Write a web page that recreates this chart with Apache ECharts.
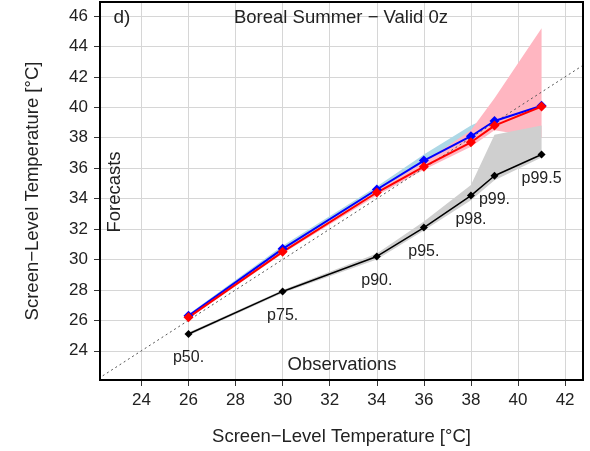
<!DOCTYPE html>
<html>
<head>
<meta charset="utf-8">
<script src="https://cdn.jsdelivr.net/npm/echarts@6/dist/echarts.min.js"></script>
<style>
html,body{margin:0;padding:0;background:#fff;}
#chart{width:590px;height:451px;}
</style>
</head>
<body>
<div id="chart"></div>
<script>
// ---- data ----
const obsX = [26, 30, 34, 36, 38, 39, 41];
const blueVals = [26.3, 30.7, 34.6, 36.5, 38.1, 39.1, 40.1];
const redVals = [26.2, 30.5, 34.4, 36.1, 37.7, 38.8, 40.05];
const blackVals = [25.1, 27.9, 30.2, 32.1, 34.2, 35.5, 36.9];
const pLabels = ['p50.', 'p75.', 'p90.', 'p95.', 'p98.', 'p99.', 'p99.5'];

const blueBandLo = [26.2, 30.5, 34.4, 36.2, 37.8, 38.8, 39.8];
const blueBandHi = [26.4, 30.9, 34.8, 36.9, 38.8, 39.5, 40.4];
const pinkBandLo = [26.1, 30.4, 34.2, 35.9, 37.4, 38.5, 38.0];
const pinkBandHi = [26.3, 30.6, 34.5, 36.4, 38.5, 40.6, 45.2];
const grayBandLo = [25.0, 27.8, 30.0, 31.9, 33.9, 35.2, 36.7];
const grayBandHi = [25.2, 28.0, 30.4, 32.5, 34.9, 38.2, 38.8];

const refLine = [22, 43];
const xTicks = [24, 26, 28, 30, 32, 34, 36, 38, 40, 42];
const yTicks = [24, 26, 28, 30, 32, 34, 36, 38, 40, 42, 44, 46];
const xLim = [23, 42];
const yLim = [23, 46];

// ---- helpers ----
function expand(lim) { const d = (lim[1] - lim[0]) * 0.04; return [lim[0] - d, lim[1] + d]; }
const xr = expand(xLim), yr = expand(yLim);
const FONT = '"Liberation Sans", Arial, Helvetica, sans-serif';

function bandSeries(lo, hi, color) {
  return {
    type: 'custom',
    clip: true,
    silent: true,
    data: [[obsX[0], lo[0]]],
    encode: { x: 0, y: 1 },
    renderItem: function (params, api) {
      const pts = [];
      for (let i = 0; i < obsX.length; i++) pts.push(api.coord([obsX[i], hi[i]]));
      for (let i = obsX.length - 1; i >= 0; i--) pts.push(api.coord([obsX[i], lo[i]]));
      return { type: 'polygon', shape: { points: pts }, style: { fill: color, stroke: null } };
    }
  };
}
function zip(a, b) { return a.map((v, i) => [v, b[i]]); }

const chart = echarts.init(document.getElementById('chart'), null, { renderer: 'canvas' });
chart.setOption({
  animation: false,
  backgroundColor: '#ffffff',
  grid: { left: 100, right: 7, top: 2, bottom: 68.5, show: true, borderColor: '#000', borderWidth: 2, backgroundColor: 'transparent', z: 10 },
  xAxis: {
    type: 'value', min: xr[0], max: xr[1],
    axisLine: { show: false },
    axisTick: { show: true, length: 6, lineStyle: { color: '#333' }, customValues: xTicks },
    axisLabel: { customValues: xTicks, fontSize: 17, fontFamily: FONT, color: '#222', margin: 12 },
    splitLine: { show: true, lineStyle: { color: '#d6d6d6', width: 1 } },
    name: 'Screen\u2212Level Temperature [\u00B0C]', nameLocation: 'middle', nameGap: 47,
    nameTextStyle: { fontSize: 18.5, fontFamily: FONT, color: '#222' }
  },
  yAxis: {
    type: 'value', min: yr[0], max: yr[1],
    axisLine: { show: false },
    axisTick: { show: true, length: 6, lineStyle: { color: '#333' }, customValues: yTicks },
    axisLabel: { customValues: yTicks, fontSize: 17, fontFamily: FONT, color: '#222', margin: 12 },
    splitLine: { show: true, lineStyle: { color: '#d6d6d6', width: 1 } },
    name: 'Screen\u2212Level Temperature [\u00B0C]', nameLocation: 'middle', nameGap: 58,
    nameTextStyle: { fontSize: 18.5, fontFamily: FONT, color: '#222' }
  },
  series: [
    bandSeries(blueBandLo, blueBandHi, '#ADD8E6'),
    bandSeries(pinkBandLo, pinkBandHi, '#FFB6C1'),
    bandSeries(grayBandLo, grayBandHi, '#CFCFCF'),
    {
      type: 'line', data: zip(refLine, refLine), symbol: 'none', clip: true, silent: true,
      lineStyle: { color: '#555', width: 1, type: [2, 3] }
    },
    {
      type: 'line', data: zip(obsX, blueVals), symbol: 'diamond', symbolSize: 10,
      itemStyle: { color: '#0000FF' }, lineStyle: { color: '#0000FF', width: 2 }
    },
    {
      type: 'line', data: zip(obsX, redVals), symbol: 'diamond', symbolSize: 10,
      itemStyle: { color: '#FF0000' }, lineStyle: { color: '#FF0000', width: 2 }
    },
    {
      type: 'line', data: zip(obsX, blackVals), symbol: 'diamond', symbolSize: 8,
      itemStyle: { color: '#000' }, lineStyle: { color: '#000', width: 1.5 },
      label: {
        show: true, position: 'bottom', distance: 12,
        formatter: p => pLabels[p.dataIndex],
        fontSize: 16, fontFamily: FONT, color: '#222'
      }
    }
  ],
  graphic: [
    { type: 'text', x: 122, y: 18, style: { text: 'd)', fontSize: 19, fontFamily: FONT, fill: '#222', align: 'center', verticalAlign: 'middle' }, z: 100 },
    { type: 'text', x: 341, y: 18, style: { text: 'Boreal Summer \u2212 Valid 0z', fontSize: 18.5, fontFamily: FONT, fill: '#222', align: 'center', verticalAlign: 'middle' }, z: 100 },
    { type: 'text', x: 115, y: 192, rotation: Math.PI / 2, style: { text: 'Forecasts', fontSize: 18.5, fontFamily: FONT, fill: '#222', align: 'center', verticalAlign: 'middle' }, z: 100 },
    { type: 'text', x: 342, y: 365, style: { text: 'Observations', fontSize: 18.5, fontFamily: FONT, fill: '#222', align: 'center', verticalAlign: 'middle' }, z: 100 }
  ]
});
</script>
</body>
</html>
